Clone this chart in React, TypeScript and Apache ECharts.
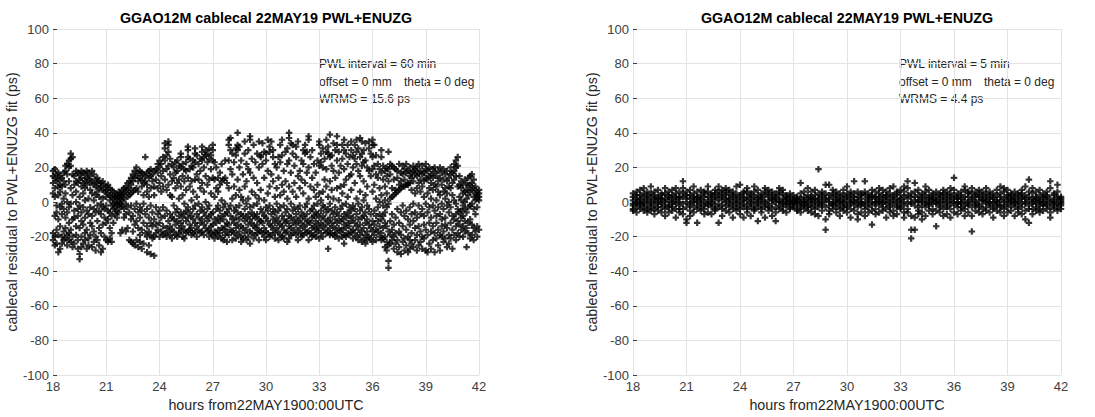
import React, { useEffect, useRef } from "react";
import * as echarts from "echarts";

// Left panel (PWL interval = 60 min): "hour|residuals (ps)"
const leftColumns: string[] = [
  "18.0|18 15 11 5 -18 -22", "18.1|19 14 8 3 -8 -20 -25", "18.2|16 12 -2 -6 -16 -24",
  "18.3|17 13 9 4 -10 -19 -29", "18.4|15 10 6 -3 -14 -27", "18.5|14 9 -1 -7 -20 -24",
  "18.6|17 12 2 -4 -17 -22", "18.7|21 18 10 5 -9 -15 -21", "18.8|22 16 0 -6 -19 -25",
  "18.9|24 20 12 -3 -12 -18 -22", "19.0|28 25 21 8 -1 -16 -23", "19.1|26 16 4 -10 -20 -26",
  "19.2|15 10 -5 -9 -24", "19.3|18 12 6 0 -14 -19", "19.4|17 11 -4 -8 -22 -27",
  "19.5|16 13 3 -2 -15 -33 -30", "19.6|18 14 9 -6 -11 -20 -26", "19.7|17 11 5 -3 -13 -24",
  "19.8|16 12 8 1 -9 -18 -22", "19.9|18 14 10 -5 -16 -27", "20.0|17 13 2 -7 -21 -25",
  "20.1|15 11 7 -3 -12 -19", "20.2|18 12 5 -8 -14 -26", "20.3|16 10 1 -4 -17 -23",
  "20.4|13 9 4 -6 -20 -28", "20.5|14 11 6 -2 -11 -22", "20.6|12 8 3 -5 -15 -25",
  "20.7|11 9 -1 -7 -18 -29", "20.8|12 7 2 -3 -13 -27", "20.9|10 6 -4 -9 -20",
  "21.0|9 7 3 -2 -12 -22", "21.1|10 5 -5 -10 -23", "21.2|8 4 1 -6 -15 -21",
  "21.3|7 3 -2 -8 -18 -23", "21.4|6 2 -1 -4 -12", "21.5|5 3 0 -3 -7",
  "21.6|4 2 -1 -5 -9", "21.7|6 3 0 -2 -6", "21.8|5 2 -1 4 -3 -18",
  "21.9|7 4 1 -2 -16", "22.0|8 5 2 -4 -9", "22.1|9 6 -1 -7 -17",
  "22.2|11 7 3 -3 -15", "22.3|12 8 4 -6 -22", "22.4|14 10 5 -2 -10 -23",
  "22.5|16 12 6 -8 -17 -24", "22.6|18 14 7 -4 -13 -25", "22.7|20 15 8 -1 -11 -22",
  "22.8|17 12 6 -6 -15 -26", "22.9|18 14 -3 -9 -19 -23", "23.0|17 13 9 -5 -16 -27",
  "23.1|16 11 4 -1 -12 -24", "23.2|15 12 26 -7 -18", "23.3|17 10 6 -4 -14 -20 -29",
  "23.4|18 14 3 -9 -17 -25", "23.5|19 15 8 -2 -12 -19 -30", "23.6|16 12 -6 -14 -21",
  "23.7|18 9 4 -10 -20 -31", "23.8|19 13 -3 -13 -18", "23.9|22 17 8 -7 -16",
  "24.0|24 20 11 -5 -12 -20", "24.1|22 15 6 -9 -17", "24.2|26 18 9 -3 -14 -19",
  "24.3|34 31 24 13 -8 -18", "24.4|27 19 7 -5 -15 -20", "24.5|35 33 29 21 10 -11 -17",
  "24.6|25 16 4 -7 -14 -19", "24.7|22 12 3 -9 -16 -21", "24.8|20 14 -2 -10 -17",
  "24.9|23 17 8 -6 -13 -19", "25.0|24 18 11 -4 -11 -20", "25.1|21 13 2 -8 -15 -18",
  "25.2|28 26 20 9 -6 -12 -17", "25.3|22 15 4 -9 -14 -20", "25.4|19 12 -1 -7 -16 -21",
  "25.5|23 18 7 -5 -11 -18", "25.6|32 30 26 14 -3 -9 -17", "25.7|25 19 9 -6 -13 -16",
  "25.8|21 12 1 -8 -15 -19", "25.9|24 20 6 -4 -10 -18", "26.0|31 28 23 13 -2 -12 -17",
  "26.1|27 16 3 -7 -14 -20", "26.2|22 13 -1 -9 -16", "26.3|25 18 8 -5 -12 -18",
  "26.4|32 29 24 11 -3 -10 -17", "26.5|26 20 6 -6 -13 -19", "26.6|30 27 15 0 -8 -15",
  "26.7|28 23 10 -4 -11 -17", "26.8|31 25 13 -2 -9 -16 -20", "26.9|27 19 5 -7 -14 -18",
  "27.0|33 30 24 14 -6 -13 -19", "27.1|23 13 3 -10 -17 -21", "27.2|20 8 -4 -12 -18",
  "27.3|14 6 -2 -9 -16 -20", "27.4|17 10 -5 -11 -18", "27.5|22 12 1 -8 -15 -21",
  "27.6|13 -3 -10 -16 -22", "27.7|24 14 -1 -7 -14 -19", "27.8|11 -6 -12 -17 -23",
  "27.9|36 33 24 8 -4 -13 -19", "28.0|37 30 19 -2 -8 -16", "28.1|28 16 2 -10 -17 -22",
  "28.2|23 9 -5 -12 -18", "28.3|31 27 4 -3 -9 -15 -21", "28.4|40 33 30 13 -6 -13 -19",
  "28.5|32 20 7 -2 -10 -17", "28.6|24 3 -7 -14 -20 -23", "28.7|16 1 -8 -15 -21",
  "28.8|35 28 9 -4 -11 -18", "28.9|22 12 -1 -9 -16 -22", "29.0|30 19 2 -7 -13 -20",
  "29.1|38 36 17 -3 -10 -17 -24", "29.2|25 6 -6 -12 -18", "29.3|33 14 -2 -8 -14 -21",
  "29.4|23 4 -9 -15 -19", "29.5|28 11 -1 -7 -13 -18", "29.6|35 20 2 -10 -16 -22",
  "29.7|27 26 7 -4 -11 -17", "29.8|34 22 -6 -12 -18", "29.9|29 14 1 -8 -15 -20",
  "30.0|28 24 -3 -9 -17 -22", "30.1|36 18 5 -5 -11 -18", "30.2|32 29 9 -2 -13 -20",
  "30.3|35 16 -7 -14 -19", "30.4|30 26 12 -4 -10 -16", "30.5|22 3 -6 -12 -18 -21",
  "30.6|20 8 -1 -9 -15", "30.7|26 14 -5 -11 -17 -22", "30.8|33 23 4 -3 -13 -19",
  "30.9|36 27 10 -8 -14 -20", "31.0|18 6 -2 -10 -16 -21", "31.1|29 12 -6 -12 -18",
  "31.2|31 22 2 -4 -11 -17 -23", "31.3|40 37 24 9 -8 -14 -21", "31.4|34 17 -1 -9 -15 -19",
  "31.5|33 28 6 -5 -12 -18", "31.6|21 11 -3 -10 -16", "31.7|32 26 3 -7 -13 -19",
  "31.8|35 15 -4 -11 -17 -22", "31.9|18 8 -2 -9 -15", "32.0|24 13 -6 -12 -18 -20",
  "32.1|30 22 5 -8 -14 -19", "32.2|33 28 11 -3 -10 -16", "32.3|29 17 -1 -7 -13 -18",
  "32.4|38 36 20 2 -11 -17 -22", "32.5|26 9 -5 -12 -18", "32.6|30 14 -4 -9 -15 -20",
  "32.7|22 7 -2 -8 -14 -19", "32.8|17 3 -6 -11 -16 -20", "32.9|24 10 -1 -7 -13 -17",
  "33.0|35 33 21 5 -9 -15 -21", "33.1|28 23 1 -5 -12 -18", "33.2|31 20 6 -2 -8 -14 -20",
  "33.3|25 13 -3 -10 -16", "33.4|36 29 19 9 -6 -13 -18", "33.5|32 28 3 -4 -11 -17 -27",
  "33.6|39 26 12 -1 -9 -15 -19", "33.7|27 21 7 -5 -12 -18", "33.8|34 18 2 -7 -14 -19",
  "33.9|30 14 -3 -10 -16 -20", "34.0|38 33 24 8 -6 -12 -18", "34.1|29 17 1 -8 -15 -21",
  "34.2|21 9 -4 -11 -17", "34.3|33 25 5 -2 -10 -16 -20", "34.4|36 30 19 10 -7 -13 -19 -24",
  "34.5|28 13 -1 -9 -15 -20", "34.6|33 22 3 -6 -12 -18", "34.7|26 15 -3 -8 -14 -19",
  "34.8|35 30 16 7 -5 -11 -17", "34.9|27 20 -2 -9 -16 -21", "35.0|33 25 11 -4 -12 -18",
  "35.1|36 29 22 2 -7 -14 -20", "35.2|31 18 -1 -10 -16 -22", "35.3|37 26 15 6 -5 -13 -19",
  "35.4|35 28 21 -3 -9 -17 -23", "35.5|30 23 12 1 -8 -15 -21", "35.6|34 24 4 -6 -12 -19 -24",
  "35.7|20 9 -2 -10 -17 -22", "35.8|35 31 18 -4 -13 -20", "35.9|28 15 -7 -15 -21",
  "36.0|36 33 26 19 6 -11 -17 -23", "36.1|33 21 10 -5 -13 -19", "36.2|27 16 2 -8 -16 -22",
  "36.3|22 14 -3 -11 -17", "36.4|19 8 0 -7 -14 -20", "36.5|30 26 17 4 -10 -18 -22",
  "36.6|21 13 -2 -8 -15 -21", "36.7|18 9 1 -6 -12 -20 -26", "36.8|20 15 5 -3 -14 -23 -28",
  "36.9|29 19 12 -1 -17 -25 -34 -38", "37.0|22 16 2 -11 -19 -24", "37.1|21 8 3 -7 -16 -22",
  "37.2|20 13 4 -13 -20 -27", "37.3|19 7 5 -9 -18 -24", "37.4|18 14 6 -4 -22 -29",
  "37.5|22 10 7 -12 -17 -26", "37.6|17 12 8 -6 -19 -30", "37.7|21 16 9 -2 -14 -23",
  "37.8|19 13 9 -8 -21 -28", "37.9|22 17 10 -5 -16 -25", "38.0|18 11 10 -10 -20 -29",
  "38.1|20 15 11 -3 -13 -22 -27", "38.2|17 14 7 -7 -18 -24", "38.3|21 18 12 -1 -11 -26",
  "38.4|19 16 5 -6 -15 -22", "38.5|20 15 8 -9 -19 -28", "38.6|22 17 11 -2 -14 -25",
  "38.7|18 13 6 -7 -17 -23", "38.8|21 16 9 -4 -20 -27", "38.9|17 12 3 -8 -13 -21",
  "39.0|22 19 14 -1 -16 -28", "39.1|18 13 5 -6 -19 -29", "39.2|20 15 8 -3 -12 -24",
  "39.3|16 11 2 -9 -17 -27", "39.4|19 14 7 -2 -14 -22", "39.5|20 17 10 -5 -18 -29",
  "39.6|15 9 1 -8 -12 -21", "39.7|18 12 6 -3 -16 -25", "39.8|20 14 4 -7 -19 -28",
  "39.9|17 10 -1 -10 -14 -20", "40.0|19 13 6 -4 -17 -23", "40.1|16 8 2 -9 -13 -21",
  "40.2|18 12 5 -2 -15 -26", "40.3|14 9 0 -6 -19 -24", "40.4|20 16 8 -3 -12 -21",
  "40.5|17 11 4 -8 -16 -27", "40.6|22 18 13 1 -10 -19", "40.7|24 20 15 -1 -7 -14 -22",
  "40.8|26 21 9 -4 -11 -18", "40.9|15 10 3 -6 -13 -20", "41.0|12 8 1 -5 -9 -16",
  "41.1|10 5 -2 -8 -14 -20", "41.2|13 6 0 -4 -11 -17", "41.3|11 7 2 -6 -15 -26",
  "41.4|14 9 4 -3 -12 -18", "41.5|15 10 6 -2 -10 -21", "41.6|16 11 7 -1 -13 -19",
  "41.7|13 8 3 -4 -15 -22", "41.8|9 5 1 -7 -17", "41.9|6 4 2 -3 -14 -20",
  "42.0|7 5 3 1 -16",
];

// Right panel (PWL interval = 5 min): "hour|residuals (ps)"
const rightColumns: string[] = [
  "18.0|3 -1 -4 5 1 -2 -5", "18.2|6 2 -3 0 -6 4 -1", "18.4|1 -2 4 -4 7 -1 2",
  "18.6|-3 5 0 -5 3 -1 8", "18.8|2 -4 6 -2 1 -6 4", "19.0|0 3 -3 5 -1 -5 9",
  "19.2|4 -2 1 -4 6 -7 2", "19.4|-1 2 -5 3 7 0 -3", "19.6|5 -3 1 -6 4 -1 2",
  "19.8|2 -4 8 0 -2 5 -8", "20.0|-2 3 -6 1 6 -3 4", "20.2|4 0 -3 7 -5 2 -1",
  "20.4|1 -4 5 -1 3 -9 8", "20.6|3 -2 0 6 -6 2 -4", "20.8|12 5 -1 3 -4 8 -7",
  "21.0|2 -3 6 -10 0 4 -12", "21.2|-1 4 -5 2 7 -2 -8", "21.4|5 0 -3 3 -6 9 1",
  "21.6|-2 3 -12 6 0 -4 2", "21.8|4 -1 2 -5 7 -3 1", "22.0|0 3 -4 5 -2 6 -7",
  "22.2|6 -2 1 -6 9 3 -1", "22.4|-3 2 5 -1 -7 4 0", "22.6|3 -4 1 7 -2 5 -5",
  "22.8|9 -1 4 -3 2 -12 6", "23.0|1 5 -2 -8 3 7 -4", "23.2|-2 4 0 6 -5 2 8",
  "23.4|5 -3 2 -1 7 -6 1", "23.6|0 3 -4 6 -2 -9 4", "23.8|2 -1 5 -5 9 1 -3",
  "24.0|4 -2 0 3 -7 10 -4", "24.2|-1 6 2 -3 5 -9 1", "24.4|3 -4 1 8 -2 6 -6",
  "24.6|0 5 -3 2 -8 4 -1", "24.8|6 -2 3 -5 1 9 -4", "25.0|-3 2 7 -1 4 -11 0",
  "25.2|2 -4 5 1 -6 3 -2", "25.4|4 0 -3 6 -1 -9 8", "25.6|-2 3 1 -5 7 -3 5",
  "25.8|1 -1 4 -4 6 -8 2", "26.0|3 -3 0 5 -6 2 -11", "26.2|0 4 -2 6 -4 1 8",
  "26.4|5 -1 2 -3 7 -5 0", "26.6|2 -2 4 -6 1 3 -1", "26.8|-1 1 3 -3 0 5 -4",
  "27.0|2 -2 0 4 -3 1 -1", "27.2|1 -1 3 -4 2 0 -5", "27.4|0 2 -2 5 -3 11 -6",
  "27.6|3 -1 1 -4 6 -2 0", "27.8|-2 2 4 -5 0 8 -3", "28.0|1 -3 3 6 -1 -6 2",
  "28.2|4 0 -2 7 -4 2 -7", "28.4|19 2 -1 5 -3 -8 1", "28.6|-1 3 0 -5 6 -2 4",
  "28.8|2 -3 10 -16 1 -10 5", "29.0|0 4 -2 10 -5 2 -7", "29.2|5 -1 3 -4 7 -2 0",
  "29.4|-3 2 6 -1 -6 4 1", "29.6|1 -4 3 0 5 -2 -8", "29.8|4 0 -3 7 -1 2 -5",
  "30.0|-2 3 1 -6 9 -3 5", "30.2|2 -1 4 -4 6 -9 0", "30.4|0 5 -2 3 -5 12 1",
  "30.6|3 -3 1 -7 6 -1 -10", "30.8|-1 2 5 -2 4 -6 0", "31.0|4 -2 0 6 -4 12 -8",
  "31.2|1 3 -3 -6 5 -1 2", "31.4|-2 4 0 7 -5 -13 3", "31.6|3 -1 2 -4 6 0 -7",
  "31.8|0 5 -2 3 -6 8 1", "32.0|2 -3 4 -1 7 -5 0", "32.2|-1 1 6 -4 3 -9 4",
  "32.4|5 -2 0 -6 8 2 -3", "32.6|1 3 -1 4 -5 9 -8", "32.8|-3 2 5 -2 0 -7 6",
  "33.0|4 -1 1 -4 7 -3 2", "33.2|0 3 -2 6 -6 9 -9", "33.4|2 -4 8 -1 4 12 -6",
  "33.6|-1 5 0 -16 -21 -8 3", "33.8|3 -2 6 -16 1 -9 11", "34.0|1 -3 4 -5 7 0 -7",
  "34.2|-2 2 0 5 -6 3 -10", "34.4|4 -1 6 -3 1 -8 9", "34.6|0 3 -2 7 -5 2 -1",
  "34.8|2 -4 5 -1 -7 4 1", "35.0|-1 1 3 -5 6 -14 0", "35.2|5 -2 0 4 -6 2 -3",
  "35.4|1 3 -4 7 -1 -8 5", "35.6|-3 2 6 -2 0 -7 4", "35.8|3 -1 1 5 -4 8 -9",
  "36.0|14 0 -2 4 -6 2 7", "36.2|2 -3 5 -1 3 -7 0", "36.4|-1 4 0 -5 6 2 -3",
  "36.6|3 -2 7 1 -4 9 -8", "36.8|0 5 -1 -6 3 -2 6", "37.0|8 -17 2 -3 5 -8 1",
  "37.2|4 -1 0 6 -5 3 -2", "37.4|-2 3 5 -3 1 -6 7", "37.6|1 -4 2 6 -1 4 -7",
  "37.8|3 0 -3 5 -5 1 8", "38.0|-1 4 2 -2 6 -6 0", "38.2|2 -3 5 0 -4 3 -9",
  "38.4|0 1 -1 4 -5 7 -2", "38.6|5 -2 3 -6 1 9 -3", "38.8|-2 2 0 6 -4 8 -8",
  "39.0|3 -1 4 -3 1 7 -6", "39.2|1 4 -2 5 -5 0 2", "39.4|-1 2 6 -3 3 -8 0",
  "39.6|4 0 -2 5 -6 1 -4", "39.8|2 -3 3 7 -1 -7 5", "40.0|0 4 -1 9 -5 2 -10",
  "40.2|13 -2 3 -12 6 -4 1", "40.4|-1 2 -4 5 0 -7 8", "40.6|3 -1 1 -3 6 -5 2",
  "40.8|0 4 -2 7 -4 1 -6", "41.0|2 -2 5 -1 3 -5 0", "41.2|-1 3 1 -4 6 -2 4",
  "41.4|12 0 -3 8 -6 2 -9", "41.6|1 -2 4 -1 5 -4 0", "41.8|10 3 -1 2 -5 6 -3",
  "42.0|2 -1 3 0 -4 1 -2",
];

const xTicks: number[] = [18, 21, 24, 27, 30, 33, 36, 39, 42];
const yTicks: number[] = [-100, -80, -60, -40, -20, 0, 20, 40, 60, 80, 100];

const titleText = "GGAO12M cablecal 22MAY19 PWL+ENUZG";
const xName = "hours from22MAY1900:00UTC";
const yName = "cablecal residual to PWL+ENUZG fit (ps)";
const leftNotes: string[] = ["PWL interval = 60 min", "offset = 0 mm", "theta = 0 deg", "WRMS = 15.6 ps"];
const rightNotes: string[] = ["PWL interval = 5 min", "offset = 0 mm", "theta = 0 deg", "WRMS = 4.4 ps"];

function toPoints(cols: string[]): number[][] {
  const pts: number[][] = [];
  cols.forEach((c) => {
    const [t, ys] = c.split("|");
    ys.trim().split(/\s+/).forEach((v) => pts.push([parseFloat(t), parseFloat(v)]));
  });
  return pts;
}

const FONT = "'Liberation Sans', Arial, Helvetica, sans-serif";
const PLUS = "path://M2,0H4V2H6V4H4V6H2V4H0V2H2Z";

export default function App() {
  const ref = useRef<HTMLDivElement>(null);
  useEffect(() => {
    document.body.style.margin = "0";
    if (!ref.current) return;
    const chart = echarts.init(ref.current, undefined, { renderer: "svg" });
    const panels = [
      { left: 53, right: 479 },
      { left: 633, right: 1061 },
    ];
    const top = 29;
    const bottom = 381;

    const xAxisBase = (gi: number) => ({
      type: "value",
      gridIndex: gi,
      min: xTicks[0],
      max: xTicks[xTicks.length - 1],
      interval: 3,
      name: xName,
      nameLocation: "middle",
      nameGap: 21,
      nameTextStyle: { fontFamily: FONT, fontSize: 14.3, color: "#262626" },
      axisLine: { show: false },
      axisTick: { show: false },
      axisLabel: { fontFamily: FONT, fontSize: 13, color: "#404040", margin: 5 },
      splitLine: { show: true, lineStyle: { color: "#e3e3e3", width: 1 } },
    });
    const yAxisBase = (gi: number) => ({
      type: "value",
      gridIndex: gi,
      min: yTicks[0],
      max: yTicks[yTicks.length - 1],
      interval: 20,
      name: yName,
      nameLocation: "middle",
      nameGap: 31,
      nameTextStyle: { fontFamily: FONT, fontSize: 14.3, color: "#262626" },
      axisLine: { show: false },
      axisTick: { show: true, inside: true, length: 4, lineStyle: { color: "#404040" } },
      axisLabel: { fontFamily: FONT, fontSize: 13, color: "#404040", margin: 4 },
      splitLine: { show: true, lineStyle: { color: "#e3e3e3", width: 1 } },
    });

    const graphic: any[] = [];
    panels.forEach((p, i) => {
      const notes = i === 0 ? leftNotes : rightNotes;
      const cx = (p.left + p.right) / 2;
      graphic.push({
        type: "text",
        x: cx,
        y: 18,
        style: {
          text: titleText,
          fontFamily: FONT,
          fontSize: 14.3,
          fontWeight: "bold",
          fill: "#000",
          align: "center",
          verticalAlign: "middle",
          textAlign: "center",
          textVerticalAlign: "middle",
        },
      });
      const nx = p.left + 266;
      const lines: [string, number, number][] = [
        [notes[0], nx, 64],
        [notes[1], nx, 82],
        [notes[2], nx + 85, 82],
        [notes[3], nx, 99],
      ];
      lines.forEach(([t, x, y]) => {
        graphic.push({
          type: "text",
          x,
          y,
          style: {
            text: t,
            fontFamily: FONT,
            fontSize: 12,
            fill: "#262626",
            align: "left",
            verticalAlign: "middle",
            textAlign: "left",
            textVerticalAlign: "middle",
          },
        });
      });
    });

    chart.setOption({
      animation: false,
      backgroundColor: "#fff",
      grid: panels.map((p) => ({
        left: p.left,
        width: p.right - p.left,
        top,
        height: bottom - top,
        containLabel: false,
      })),
      xAxis: [xAxisBase(0), xAxisBase(1)],
      yAxis: [yAxisBase(0), yAxisBase(1)],
      series: [
        {
          type: "scatter",
          xAxisIndex: 0,
          yAxisIndex: 0,
          data: toPoints(leftColumns),
          symbol: PLUS,
          symbolSize: 6.5,
          itemStyle: { color: "#000" },
          silent: true,
        },
        {
          type: "scatter",
          xAxisIndex: 1,
          yAxisIndex: 1,
          data: toPoints(rightColumns),
          symbol: PLUS,
          symbolSize: 6.5,
          itemStyle: { color: "#000" },
          silent: true,
        },
      ],
      graphic,
    });
    return () => chart.dispose();
  }, []);
  return <div ref={ref} style={{ width: 1095, height: 417 }} />;
}
